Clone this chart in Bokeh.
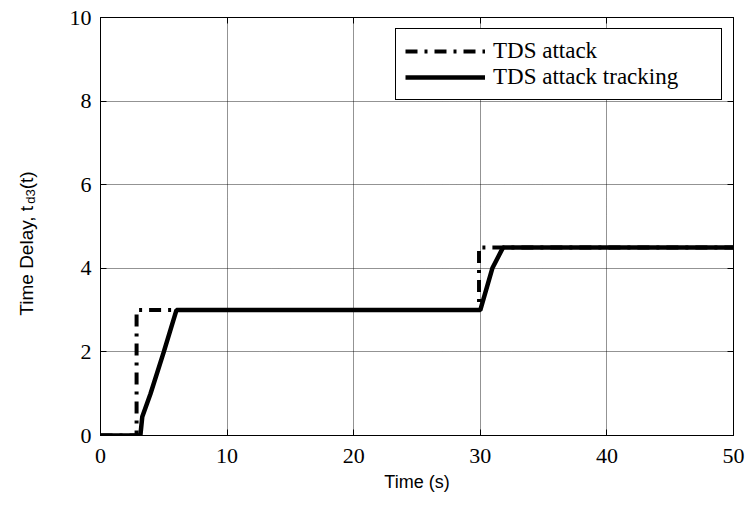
import math
from bokeh.plotting import figure
from bokeh.layouts import row
from bokeh.models import Range1d, LinearAxis, FixedTicker
from bokeh.core.properties import value
from bokeh.embed import file_html
from bokeh.resources import INLINE

# ---- data ----
attack_t = [0.0, 2.85, 2.85, 29.9, 29.9, 50.0]
attack_v = [0.0, 0.0, 3.0, 3.0, 4.5, 4.5]
track_t = [0.0, 3.15, 3.3, 3.95, 5.0, 6.0, 30.0, 30.95, 31.8, 50.0]
track_v = [0.0, 0.0, 0.45, 1.0, 2.0, 3.0, 3.0, 4.0, 4.5, 4.5]
x_ticks = [0, 10, 20, 30, 40, 50]
y_ticks = [0, 2, 4, 6, 8, 10]
series_names = ["TDS attack", "TDS attack tracking"]
x_label = "Time (s)"
y_label_main = "Time Delay, t"
y_label_sub = "d3"
y_label_tail = "(t)"

SERIF = "Liberation Serif"
SANS = "Liberation Sans"

W, H = 750, 505
LABEL_W = 44
X0, X1, Y0, Y1 = 0, 50, 0, 10
LEFT, RIGHT, TOP, BOTTOM = 100 - LABEL_W, 17, 17, 70

p = figure(width=W - LABEL_W, height=H, output_backend="svg", toolbar_location=None,
           x_range=Range1d(X0, X1), y_range=Range1d(Y0, Y1),
           min_border_left=LEFT, min_border_right=RIGHT, min_border_top=TOP,
           min_border_bottom=BOTTOM, background_fill_color="white",
           border_fill_color="white")

p.outline_line_color = "black"
p.outline_line_width = 1
p.outline_line_alpha = 1

for ax in (p.xaxis[0], p.yaxis[0]):
    ax.major_label_text_font = SERIF
    ax.major_label_text_font_size = "22px"
    ax.major_label_text_color = "black"
    ax.major_tick_in = 6
    ax.major_tick_out = 0
    ax.minor_tick_in = 0
    ax.minor_tick_out = 0
    ax.axis_line_color = "black"
    ax.major_tick_line_color = "black"

p.xaxis[0].ticker = FixedTicker(ticks=x_ticks)
p.yaxis[0].ticker = FixedTicker(ticks=y_ticks)
p.xaxis[0].major_label_standoff = 13
p.yaxis[0].major_label_standoff = 9
p.xaxis[0].axis_label = x_label
p.xaxis[0].axis_label_text_font = SANS
p.xaxis[0].axis_label_text_font_size = "18px"
p.xaxis[0].axis_label_text_font_style = "normal"
p.xaxis[0].axis_label_text_color = "black"
p.xaxis[0].axis_label_standoff = 6

# mirrored axes (ticks only) on top and right
top = LinearAxis(ticker=FixedTicker(ticks=x_ticks), major_label_text_alpha=0,
                 major_label_text_font_size="1px",
                 major_tick_in=6, major_tick_out=0, minor_tick_in=0, minor_tick_out=0,
                 major_label_standoff=0)
right = LinearAxis(ticker=FixedTicker(ticks=y_ticks), major_label_text_alpha=0,
                   major_label_text_font_size="1px",
                   major_tick_in=6, major_tick_out=0, minor_tick_in=0, minor_tick_out=0,
                   major_label_standoff=0)
p.add_layout(top, "above")
p.add_layout(right, "right")

p.xgrid.ticker = FixedTicker(ticks=x_ticks)
p.ygrid.ticker = FixedTicker(ticks=y_ticks)
for g in (p.xgrid[0], p.ygrid[0]):
    g.grid_line_color = "black"
    g.grid_line_dash = "1 1"
    g.grid_line_width = 1
    g.grid_line_alpha = 0.85

p.line(attack_t, attack_v, line_color="black", line_width=4, line_dash="12 7 3 7",
       legend_label=series_names[0])
p.line(track_t, track_v, line_color="black", line_width=4.5,
       legend_label=series_names[1])

lg = p.legend[0]
lg.location = "top_right"
lg.margin = 11
lg.padding = 9
lg.spacing = 0
lg.glyph_width = 80
lg.glyph_height = 24
lg.label_height = 24
lg.label_standoff = 8
lg.label_width = 219
lg.label_text_font = SERIF
lg.label_text_font_size = "23px"
lg.label_text_color = "black"
lg.border_line_color = "black"
lg.border_line_width = 1
lg.border_line_alpha = 1
lg.background_fill_color = "white"
lg.background_fill_alpha = 1

# ---- y-axis label (with subscript) in a narrow side panel ----
lab = figure(frame_width=LABEL_W, frame_height=H, output_backend="svg",
             toolbar_location=None, title=None,
             x_range=Range1d(0, LABEL_W), y_range=Range1d(0, H),
             x_axis_location=None, y_axis_location=None,
             min_border_left=0, min_border_right=0, min_border_top=0, min_border_bottom=0,
             background_fill_color="white", border_fill_color="white")
lab.outline_line_color = None
lab.grid.visible = False

main_fs, sub_fs = 19, 13
main_w = 5.89 * main_fs
sub_w = 2 * 0.556 * sub_fs
tail_w = 0.944 * main_fs
total = main_w + sub_w + tail_w
center_y = H - 226
start = center_y - total / 2
txt = dict(angle=math.pi / 2, text_align="left", text_baseline="alphabetic",
           text_color="black", text_font=value(SANS))
lab.text(x=[26], y=[start], text=[y_label_main],
         text_font_size=value(f"{main_fs}px"), **txt)
lab.text(x=[30], y=[start + main_w], text=[y_label_sub],
         text_font_size=value(f"{sub_fs}px"), **txt)
lab.text(x=[26], y=[start + main_w + sub_w], text=[y_label_tail],
         text_font_size=value(f"{main_fs}px"), **txt)

layout = row(lab, p, spacing=0)
open("out.html", "w").write(file_html(layout, INLINE))
